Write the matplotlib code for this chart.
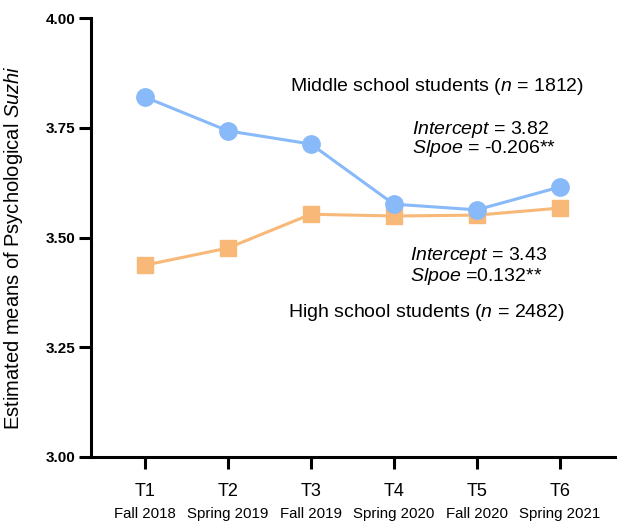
#!/usr/bin/env python3
import matplotlib
matplotlib.use('Agg')
import matplotlib.pyplot as plt

plt.rcParams['font.family'] = ['Liberation Sans', 'DejaVu Sans']
plt.rcParams['mathtext.fontset'] = 'custom'
plt.rcParams['mathtext.rm'] = 'Liberation Sans'
plt.rcParams['mathtext.it'] = 'Liberation Sans:italic'

waves = [1, 2, 3, 4, 5, 6]
wave_labels = ['T1', 'T2', 'T3', 'T4', 'T5', 'T6']
semesters = ['Fall 2018', 'Spring 2019', 'Fall 2019', 'Spring 2020', 'Fall 2020', 'Spring 2021']
middle = [3.820, 3.743, 3.713, 3.576, 3.563, 3.615]
high = [3.437, 3.476, 3.553, 3.549, 3.551, 3.567]
yticks = [3.00, 3.25, 3.50, 3.75, 4.00]

blue = '#88b9f8'
orange = '#f8b878'

fig = plt.figure(figsize=(6.17, 5.24), dpi=100)
ax = fig.add_axes([0.1475, 0.128, 0.8525, 0.8375])

ax.plot(waves, high, color=orange, lw=2.2, marker='s', ms=12, mec=orange, mfc=orange, zorder=3)
ax.plot(waves, middle, color=blue, lw=2.2, marker='o', ms=12.5, mec=blue, mfc=blue, zorder=4)

ax.set_xlim(0.35, 6.69)
ax.set_ylim(3.0, 4.0)
ax.set_yticks(yticks)
ax.set_yticklabels(['{:.2f}'.format(v) for v in yticks], fontweight='bold', fontsize=11)
ax.set_xticks(waves)
ax.set_xticklabels(wave_labels, fontsize=13)

for side in ['top', 'right']:
    ax.spines[side].set_visible(False)
for side in ['left', 'bottom']:
    ax.spines[side].set_linewidth(2.2)
ax.tick_params(axis='y', length=8.5, width=2.2, pad=3)
ax.tick_params(axis='x', length=8.5, width=2.2, pad=10)

# semester under each wave label
for x, s in zip(waves, semesters):
    ax.annotate(s, xy=(x, 0), xycoords=('data', 'axes fraction'),
                xytext=(0, -41), textcoords='offset points',
                ha='center', va='center', fontsize=10.8)

ax.set_ylabel('Estimated means of Psychological $\\it{Suzhi}$', fontsize=14.5, labelpad=10)
ax.yaxis.set_label_coords(-0.125, 0.476)

fs = 14
ax.text(2.747, 3.843, 'Middle school students ($\\it{n}$ = 1812)', fontsize=fs, va='center')
ax.text(4.217, 3.747, '$\\it{Intercept}$ = 3.82', fontsize=fs, va='center')
ax.text(4.217, 3.702, '$\\it{Slpoe}$ = -0.206**', fontsize=fs, va='center')
ax.text(4.195, 3.460, '$\\it{Intercept}$ = 3.43', fontsize=fs, va='center')
ax.text(4.195, 3.410, '$\\it{Slpoe}$ =0.132**', fontsize=fs, va='center')
ax.text(2.723, 3.328, 'High school students ($\\it{n}$ = 2482)', fontsize=fs, va='center')

plt.savefig('out.png', dpi=100)
